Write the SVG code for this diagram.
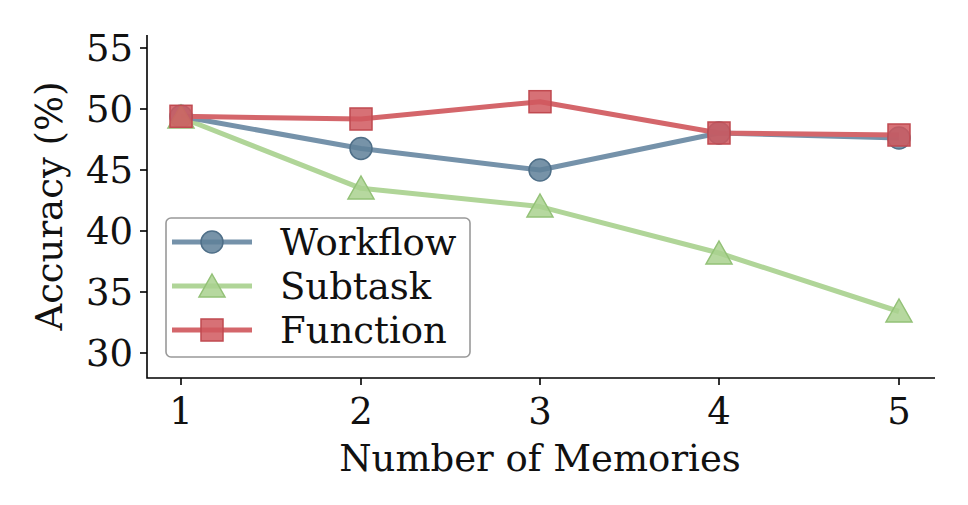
<svg xmlns="http://www.w3.org/2000/svg" width="968" height="505" viewBox="0 0 968 505">
<style>
text{font-family:"DejaVu Serif",serif;font-size:37px;fill:#111}
.ax{stroke:#000;stroke-width:1.6;fill:none}
.tk{stroke:#000;stroke-width:1.6}
.wf{stroke:#7592aa;stroke-width:5;fill:none;stroke-linejoin:round}
.st{stroke:#b0d598;stroke-width:5;fill:none;stroke-linejoin:round}
.fn{stroke:#d4666b;stroke-width:5;fill:none;stroke-linejoin:round}
.mwf{fill:#5f8099;fill-opacity:0.85;stroke:#4f6f88;stroke-width:1.5}
.mst{fill:#a9d18e;fill-opacity:0.85;stroke:#93c177;stroke-width:1.5}
.mfn{fill:#d0585e;fill-opacity:0.85;stroke:#c04a50;stroke-width:1.5}
</style>
<rect width="968" height="505" fill="#fff"/>
<g id="axes">
<path class="ax" d="M147,35 V378 H935"/>
<g class="tk">
<line x1="140" y1="48" x2="147" y2="48"/><line x1="140" y1="109" x2="147" y2="109"/><line x1="140" y1="170" x2="147" y2="170"/><line x1="140" y1="231" x2="147" y2="231"/><line x1="140" y1="292" x2="147" y2="292"/><line x1="140" y1="353" x2="147" y2="353"/>
<line x1="181" y1="378" x2="181" y2="385"/><line x1="361" y1="378" x2="361" y2="385"/><line x1="540" y1="378" x2="540" y2="385"/><line x1="719" y1="378" x2="719" y2="385"/><line x1="899" y1="378" x2="899" y2="385"/>
</g>
<g text-anchor="end">
<text x="133" y="61">55</text><text x="133" y="122">50</text><text x="133" y="183">45</text><text x="133" y="244">40</text><text x="133" y="305">35</text><text x="133" y="366">30</text>
</g>
<g text-anchor="middle">
<text x="181" y="424">1</text><text x="361" y="424">2</text><text x="540" y="424">3</text><text x="719" y="424">4</text><text x="899" y="424">5</text>
<text x="540" y="471">Number of Memories</text>
<text transform="translate(62,206) rotate(-90)">Accuracy (%)</text>
</g>
</g>
<g id="connectors">
<polyline class="st" points="181,117.5 361,188.3 540,206.6 719,253 899,311.5"/>
<polyline class="wf" points="181,116.3 361,148.5 540,170 719,133 899,138"/>
<polyline class="fn" points="181,116.3 361,119 540,101.7 719,133 899,135"/>
</g>
<g id="workflow">
<circle class="mwf" cx="181" cy="116.3" r="11"/><circle class="mwf" cx="361" cy="148.5" r="11"/><circle class="mwf" cx="540" cy="170" r="11"/><circle class="mwf" cx="719" cy="133" r="11"/><circle class="mwf" cx="899" cy="138" r="11"/>
</g>
<g id="subtask">
<polygon class="mst" points="181,105 194,128 168,128"/><polygon class="mst" points="361,176 374,199 348,199"/><polygon class="mst" points="540,194 553,217 527,217"/><polygon class="mst" points="719,241 732,264 706,264"/><polygon class="mst" points="899,299 912,322 886,322"/>
</g>
<g id="function">
<rect class="mfn" x="170" y="105.3" width="22" height="22"/><rect class="mfn" x="350" y="108" width="22" height="22"/><rect class="mfn" x="529" y="90.7" width="22" height="22"/><rect class="mfn" x="708" y="122" width="22" height="22"/><rect class="mfn" x="888" y="124" width="22" height="22"/>
</g>
<g id="legend">
<rect x="166" y="218" width="304" height="139" rx="5" fill="#fff" fill-opacity="0.8" stroke="#999" stroke-width="1.6"/>
<line class="wf" x1="172" y1="242" x2="252" y2="242"/><circle class="mwf" cx="212" cy="242" r="11"/>
<text x="280" y="255">Workflow</text>
<line class="st" x1="172" y1="286" x2="252" y2="286"/><polygon class="mst" points="212,274 225,297 199,297"/>
<text x="280" y="299">Subtask</text>
<line class="fn" x1="172" y1="330" x2="252" y2="330"/><rect class="mfn" x="201" y="319" width="22" height="22"/>
<text x="280" y="343">Function</text>
</g>
</svg>
